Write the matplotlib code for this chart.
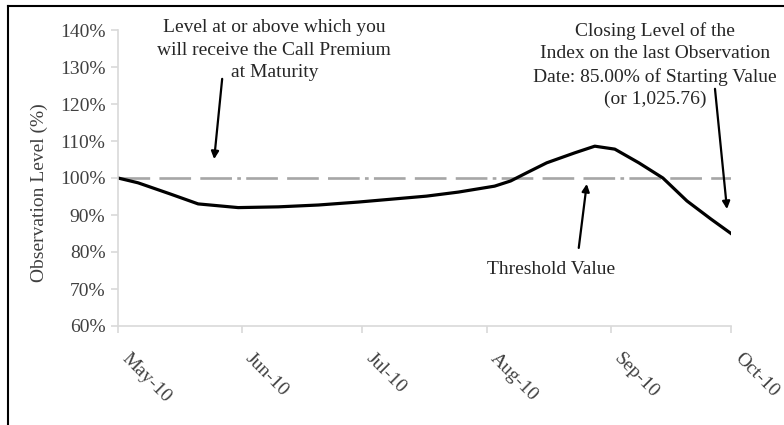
import matplotlib as mpl
mpl.use('Agg')
import matplotlib.pyplot as plt
import matplotlib.dates as mdates
from matplotlib.lines import Line2D
import pandas as pd

FigSize = (7.84, 4.25)
DPI = 100
FontSize = 14
TextColor = '#262626'
TickColor = '#404040'
plt.rcParams['font.family'] = ['Liberation Serif', 'DejaVu Serif']

# observation dates and index level (% of starting value)
obs_dates = ['2010-05-01', '2010-05-06', '2010-05-14', '2010-05-21', '2010-05-31',
             '2010-06-10', '2010-06-20', '2010-06-30', '2010-07-17', '2010-07-25',
             '2010-08-03', '2010-08-07', '2010-08-11', '2010-08-16', '2010-08-23',
             '2010-08-28', '2010-09-02', '2010-09-08', '2010-09-14', '2010-09-20',
             '2010-09-26', '2010-10-01']
obs_level = [100.0, 98.7, 95.7, 93.0, 92.0, 92.2, 92.7, 93.5, 95.1, 96.2,
             97.8, 99.2, 101.4, 104.1, 106.8, 108.6, 107.8, 104.1, 100.0, 93.8,
             88.9, 85.0]
threshold_dates = ['2010-05-01', '2010-10-01']
threshold_level = [100, 100]
month_ticks = ['2010-05-01', '2010-06-01', '2010-07-01', '2010-08-01', '2010-09-01', '2010-10-01']
y_ticks = [60, 70, 80, 90, 100, 110, 120, 130, 140]

note_premium = 'Level at or above which you\nwill receive the Call Premium\nat Maturity'
note_closing = ('Closing Level of the\nIndex on the last Observation\n'
                'Date: 85.00% of Starting Value\n(or 1,025.76)')
note_threshold = 'Threshold Value'


def d(s):
    return mdates.date2num(pd.Timestamp(s))


fig = plt.figure(figsize=FigSize, dpi=DPI)
ax = fig.add_axes([118/784, 1-326/425, 613/784, 296/425])

x = [d(s) for s in obs_dates]
ax.plot([d(s) for s in threshold_dates], threshold_level, color='#a6a6a6', lw=1.9,
        dashes=(12, 3.5, 12, 3.5, 12, 2, 1.4, 2), solid_capstyle='butt')
ax.plot(x, obs_level, color='black', lw=2.3, solid_joinstyle='round')

ax.set_xlim(d('2010-05-01'), d('2010-10-01'))
ax.set_ylim(60, 140)
ax.set_yticks(y_ticks)
ax.set_yticklabels(['%d%%' % v for v in y_ticks], fontsize=FontSize, color=TickColor)
ax.set_xticks([d(s) for s in month_ticks])
ax.set_xticklabels([pd.Timestamp(s).strftime('%b-%y') for s in month_ticks],
                   fontsize=FontSize, color=TickColor, rotation=-45,
                   ha='left', va='bottom', rotation_mode='anchor')
for sp in ['top', 'right']:
    ax.spines[sp].set_visible(False)
for sp in ['left', 'bottom']:
    ax.spines[sp].set_color('#d9d9d9')
    ax.spines[sp].set_linewidth(1.2)
ax.tick_params(axis='both', color='#d9d9d9', length=5, width=1.2)
ax.tick_params(axis='x', pad=21)
ax.tick_params(axis='y', pad=4)

ax.set_ylabel('Observation Level (%)', fontsize=FontSize, color=TickColor)
ax.yaxis.set_label_coords(-0.115, 0.45)

# annotations
ax.text(d('2010-06-09'), 142.9, note_premium, ha='center', va='top',
        fontsize=FontSize, color=TextColor, clip_on=False, linespacing=1.42)
ax.text(d('2010-09-12'), 142.0, note_closing, ha='center', va='top',
        fontsize=FontSize, color=TextColor, clip_on=False, linespacing=1.38)
ax.text(d('2010-08-17'), 75.4, note_threshold, ha='center', va='center',
        fontsize=FontSize, color=TextColor)

arrow = dict(arrowstyle='-|>', lw=1.6, color='black', mutation_scale=11,
             shrinkA=0, shrinkB=0)
ax.annotate('', xy=(d('2010-05-25'), 105.1), xytext=(d('2010-05-27'), 126.8),
            arrowprops=arrow, annotation_clip=False)
ax.annotate('', xy=(d('2010-09-30'), 91.6), xytext=(d('2010-09-27'), 124.1),
            arrowprops=arrow, annotation_clip=False)
ax.annotate('', xy=(d('2010-08-26'), 98.4), xytext=(d('2010-08-24'), 81.1),
            arrowprops=arrow, annotation_clip=False)

# frame lines at the top and left of the picture
fig.add_artist(Line2D([8/784, 8/784], [0, 1-6/425], color='black', lw=1.5))
fig.add_artist(Line2D([8/784, 1], [1-6/425, 1-6/425], color='black', lw=1.5))

fig.savefig('out.png', dpi=DPI)
